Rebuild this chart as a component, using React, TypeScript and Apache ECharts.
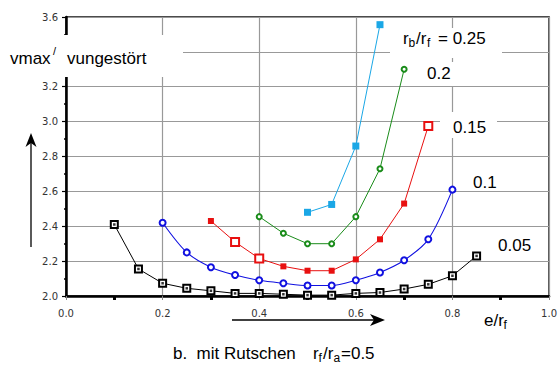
import React, { useEffect, useRef } from "react";
import * as echarts from "echarts";

// e/rf positions and vmax/vungestört values per rb/rf curve
const x005 = [0.1, 0.15, 0.2, 0.25, 0.3, 0.35, 0.4, 0.45, 0.5, 0.55, 0.6, 0.65, 0.7, 0.75, 0.8, 0.85];
const y005 = [2.41, 2.155, 2.073, 2.044, 2.03, 2.015, 2.015, 2.01, 2.005, 2.005, 2.015, 2.02, 2.04, 2.067, 2.116, 2.23];

const x010 = [0.2, 0.25, 0.3, 0.35, 0.4, 0.45, 0.5, 0.55, 0.6, 0.65, 0.7, 0.75, 0.8];
const y010 = [2.42, 2.25, 2.165, 2.12, 2.09, 2.073, 2.06, 2.06, 2.09, 2.135, 2.205, 2.325, 2.61];

const x015 = [0.3, 0.35, 0.4, 0.45, 0.5, 0.55, 0.6, 0.65, 0.7, 0.75];
const y015 = [2.43, 2.31, 2.215, 2.17, 2.145, 2.145, 2.21, 2.325, 2.53, 2.975];
const open015 = [1, 2, 9];

const x020 = [0.4, 0.45, 0.5, 0.55, 0.6, 0.65, 0.7];
const y020 = [2.455, 2.36, 2.3, 2.3, 2.455, 2.73, 3.3];

const x025 = [0.5, 0.55, 0.6, 0.65];
const y025 = [2.48, 2.525, 2.86, 3.556];

const curveLabels = ["0.2", "0.15", "0.1", "0.05"];
// y tick label hidden behind the axis title in the reference
const hiddenYLabels = ["3.4"];

const pairs = (xs: number[], ys: number[]) => xs.map((x, i) => [x, ys[i]]);

const SANS = '"Liberation Sans", Arial, sans-serif';

function txt(text: string, x: number, y: number, size = 17, extra: any = {}) {
  return {
    type: "text",
    x,
    y,
    z: 102,
    style: {
      text,
      fontSize: size,
      fontFamily: SANS,
      fill: "#000",
      textAlign: "left",
      textVerticalAlign: "middle",
      ...extra,
    },
  };
}

function box(x: number, y: number, w: number, h: number) {
  return { type: "rect", z: 101, shape: { x, y, width: w, height: h }, style: { fill: "#fff" } };
}

export default function App() {
  const ref = useRef<HTMLDivElement>(null);
  useEffect(() => {
    if (!ref.current) return;
    const chart = echarts.init(ref.current, null, { renderer: "svg" });
    const red = "#e81010";
    const option: any = {
      animation: false,
      backgroundColor: "#fff",
      grid: {
        left: 66,
        right: 9,
        top: 17,
        bottom: 69,
        show: true,
        borderColor: "#111",
        borderWidth: 1.5,
        backgroundColor: "transparent",
      },
      xAxis: {
        type: "value",
        min: 0,
        max: 1,
        interval: 0.2,
        axisLine: { show: true, lineStyle: { color: "#000", width: 2.5 } },
        axisTick: { show: true, length: 4, lineStyle: { color: "#888", width: 1 } },
        minorTick: { show: true, splitNumber: 2, length: 4, lineStyle: { color: "#000", width: 3 } },
        axisLabel: {
          margin: 12,
          fontSize: 10,
          fontFamily: '"DejaVu Sans", sans-serif',
          color: "#333",
          formatter: (v: number) => v.toFixed(1),
        },
        splitLine: { show: true, lineStyle: { color: "#999", width: 1.2 } },
      },
      yAxis: {
        type: "value",
        min: 2.0,
        max: 3.6,
        interval: 0.2,
        axisLine: { show: true, lineStyle: { color: "#000", width: 2.5 } },
        axisTick: { show: true, length: 4, lineStyle: { color: "#000", width: 1.2 } },
        minorTick: { show: true, splitNumber: 2, length: 2, lineStyle: { color: "#000", width: 1.5 } },
        axisLabel: {
          margin: 8,
          fontSize: 10,
          fontFamily: '"DejaVu Sans", sans-serif',
          color: "#333",
          formatter: (v: number) => (hiddenYLabels.includes(v.toFixed(1)) ? "" : v.toFixed(1)),
        },
        splitLine: { show: true, lineStyle: { color: "#999", width: 1.2 } },
      },
      series: [
        {
          type: "line",
          data: pairs(x005, y005),
          symbol: "emptyRect",
          symbolSize: 7,
          lineStyle: { color: "#000", width: 1 },
          itemStyle: { color: "#000", borderWidth: 1.3 },
          z: 3,
        },
        {
          type: "scatter",
          data: pairs(x005, y005),
          symbol: "rect",
          symbolSize: 2.5,
          itemStyle: { color: "#000" },
          z: 4,
        },
        {
          type: "line",
          data: pairs(x010, y010),
          smooth: 0.3,
          symbol: "emptyCircle",
          symbolSize: 6,
          lineStyle: { color: "#1010e0", width: 1.1 },
          itemStyle: { color: "#1010e0", borderWidth: 1.6 },
          z: 3,
        },
        {
          type: "line",
          data: pairs(x015, y015).map((p, i) =>
            open015.includes(i)
              ? { value: p, symbol: "emptyRect", symbolSize: 8, itemStyle: { borderWidth: 2 } }
              : { value: p }
          ),
          symbol: "rect",
          symbolSize: 6,
          lineStyle: { color: red, width: 1 },
          itemStyle: { color: red },
          z: 3,
        },
        {
          type: "line",
          data: pairs(x020, y020),
          symbol: "emptyCircle",
          symbolSize: 5,
          lineStyle: { color: "#1a8c1a", width: 1 },
          itemStyle: { color: "#1a8c1a", borderWidth: 1.2 },
          z: 3,
        },
        {
          type: "line",
          data: pairs(x025, y025),
          symbol: "rect",
          symbolSize: 7,
          lineStyle: { color: "#1aa7e6", width: 1 },
          itemStyle: { color: "#1aa7e6" },
          z: 3,
        },
      ],
      graphic: [
        // y-axis title
        box(0, 35, 183, 42),
        txt("vmax", 10, 58),
        txt("/", 53, 51, 11),
        txt("vungestört", 67, 58),
        // curve labels
        box(390, 28, 112, 30),
        txt("r", 403, 38),
        txt("b", 408.5, 43, 12),
        txt("/r", 416, 38),
        txt("f", 427, 43, 12),
        txt("= 0.25", 438, 38),
        box(415, 62, 52, 24),
        txt(curveLabels[0], 427, 73),
        box(440, 112, 57, 26),
        txt(curveLabels[1], 453, 127),
        box(466, 172, 34, 18),
        txt(curveLabels[2], 473, 182),
        txt(curveLabels[3], 498, 245),
        // x-axis title
        txt("e/r", 484, 320),
        txt("f", 503.5, 325, 12),
        // bottom caption
        txt("b.  mit Rutschen", 173, 353),
        txt("r", 313, 353),
        txt("f", 318.5, 358, 12),
        txt("/r", 323, 353),
        txt("a", 333.5, 358, 12),
        txt("=0.5", 341, 353),
        // arrows
        { type: "line", z: 102, shape: { x1: 31, y1: 247, x2: 31, y2: 142 }, style: { stroke: "#000", lineWidth: 1.3 } },
        { type: "polygon", z: 102, shape: { points: [[31, 133], [25.5, 147], [31, 143], [36.5, 147]] }, style: { fill: "#000" } },
        { type: "line", z: 102, shape: { x1: 232, y1: 320, x2: 377, y2: 320 }, style: { stroke: "#000", lineWidth: 1.3 } },
        { type: "polygon", z: 102, shape: { points: [[385, 320], [370, 314], [374, 320], [370, 326]] }, style: { fill: "#000" } },
      ],
    };
    chart.setOption(option);
    return () => chart.dispose();
  }, []);
  return (
    <div
      ref={ref}
      style={{ position: "fixed", left: 0, top: 0, width: 560, height: 365, background: "#fff" }}
    />
  );
}
